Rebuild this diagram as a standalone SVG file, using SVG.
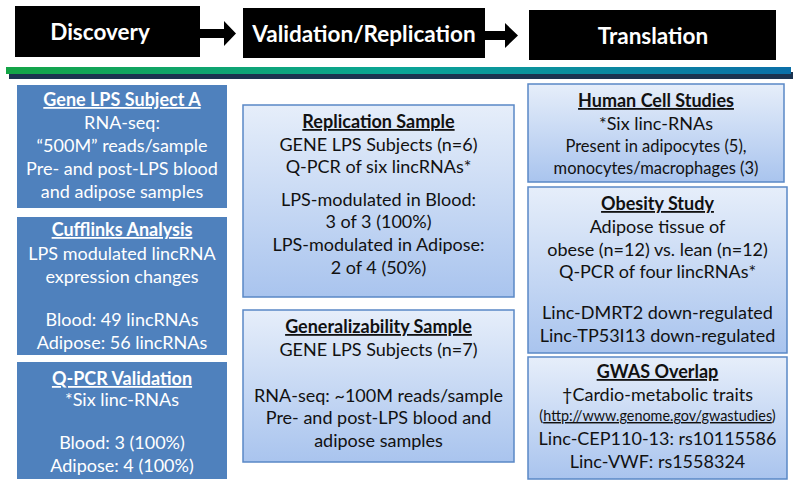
<svg xmlns="http://www.w3.org/2000/svg" width="800" height="486" viewBox="0 0 800 486">
<defs>
<linearGradient id="bar" x1="0" y1="0" x2="1" y2="0">
<stop offset="0" stop-color="#14A446"/>
<stop offset="0.5" stop-color="#0AA596"/>
<stop offset="1" stop-color="#0A6FA8"/>
</linearGradient>
<linearGradient id="lb" x1="0" y1="0" x2="0" y2="1">
<stop offset="0" stop-color="#E6EEFA"/>
<stop offset="1" stop-color="#A9C4EE"/>
</linearGradient>
<style>
text{font-family:Lato,"Liberation Sans",sans-serif;text-anchor:middle}
.hd{fill:#000}
.ht{fill:#fff;font-weight:bold;font-size:22.5px}
.db{fill:#4F81BD}
.lb{fill:url(#lb);stroke:#5A88C6;stroke-width:1.5}
.w{fill:#fff;font-size:18px}
.k{fill:#111;font-size:18px}
.s{font-size:16.5px}
.xs{font-size:14.4px}
.t{font-weight:bold;text-decoration:underline}
</style>
</defs>
<g id="header">
<g id="discovery"><rect class="hd" x="15" y="6" width="185" height="51"/><text class="ht" x="100" y="40">Discovery</text></g>
<g id="validation"><rect class="hd" x="243" y="8" width="242" height="50"/><text class="ht" x="364" y="42">Validation/Replication</text></g>
<g id="translation"><rect class="hd" x="529" y="10" width="247" height="50"/><text class="ht" x="653" y="44">Translation</text></g>
</g>
<g id="connectors">
<polygon points="200,29 224,29 224,21 236,33.5 224,46 224,38 200,38" fill="#000"/>
<polygon points="485,31 505,31 505,23 518,35.5 505,48 505,40 485,40" fill="#000"/>
</g>
<g id="bar">
<rect x="9" y="72" width="784" height="7" fill="#1B3350"/>
<rect x="6" y="67" width="785" height="7" fill="url(#bar)"/>
</g>
<g id="gene-lps">
<rect class="db" x="17" y="85" width="210" height="123"/>
<text class="w t" x="122" y="106">Gene LPS Subject A</text>
<text class="w" x="122" y="129">RNA-seq:</text>
<text class="w" x="122" y="152">“500M” reads/sample</text>
<text class="w" x="122" y="175">Pre- and post-LPS blood</text>
<text class="w" x="122" y="198">and adipose samples</text>
</g>
<g id="cufflinks">
<rect class="db" x="17" y="217" width="210" height="138"/>
<text class="w t" x="122" y="236">Cufflinks Analysis</text>
<text class="w" x="122" y="260">LPS modulated lincRNA</text>
<text class="w" x="122" y="283">expression changes</text>
<text class="w" x="122" y="326">Blood: 49 lincRNAs</text>
<text class="w" x="122" y="349">Adipose: 56 lincRNAs</text>
</g>
<g id="qpcr">
<rect class="db" x="17" y="362" width="210" height="117"/>
<text class="w t" x="122" y="385">Q-PCR Validation</text>
<text class="w" x="122" y="406">*Six linc-RNAs</text>
<text class="w" x="122" y="449">Blood: 3 (100%)</text>
<text class="w" x="122" y="472">Adipose: 4 (100%)</text>
</g>
<g id="replication">
<rect class="lb" x="243" y="105" width="271" height="192"/>
<text class="k t" x="378.5" y="128">Replication Sample</text>
<text class="k" x="378.5" y="151">GENE LPS Subjects (n=6)</text>
<text class="k" x="378.5" y="173">Q-PCR of six lincRNAs*</text>
<text class="k" x="378.5" y="206">LPS-modulated in Blood:</text>
<text class="k" x="378.5" y="228">3 of 3 (100%)</text>
<text class="k" x="378.5" y="251">LPS-modulated in Adipose:</text>
<text class="k" x="378.5" y="274">2 of 4 (50%)</text>
</g>
<g id="generalizability">
<rect class="lb" x="243" y="310" width="271" height="152"/>
<text class="k t" x="378.5" y="333">Generalizability Sample</text>
<text class="k" x="378.5" y="356">GENE LPS Subjects (n=7)</text>
<text class="k" x="378.5" y="402">RNA-seq: ~100M reads/sample</text>
<text class="k" x="378.5" y="424">Pre- and post-LPS blood and</text>
<text class="k" x="378.5" y="447">adipose samples</text>
</g>
<g id="human-cell">
<rect class="lb" x="528" y="84" width="256" height="98"/>
<text class="k t" x="656" y="107">Human Cell Studies</text>
<text class="k" x="656" y="130">*Six linc-RNAs</text>
<text class="k s" x="656" y="152">Present in adipocytes (5),</text>
<text class="k s" x="656" y="174">monocytes/macrophages (3)</text>
</g>
<g id="obesity">
<rect class="lb" x="528" y="187" width="259" height="166"/>
<text class="k t" x="657.5" y="210">Obesity Study</text>
<text class="k" x="657.5" y="233">Adipose tissue of</text>
<text class="k" x="657.5" y="256">obese (n=12) vs. lean (n=12)</text>
<text class="k" x="657.5" y="278">Q-PCR of four lincRNAs*</text>
<text class="k" x="657.5" y="319">Linc-DMRT2 down-regulated</text>
<text class="k" x="657.5" y="342">Linc-TP53I13 down-regulated</text>
</g>
<g id="gwas">
<rect class="lb" x="528" y="357" width="259" height="122"/>
<text class="k t" x="657.5" y="378">GWAS Overlap</text>
<text class="k" x="657.5" y="401">†Cardio-metabolic traits</text>
<text class="k xs" x="657.5" y="421">(<tspan text-decoration="underline">http://www.genome.gov/gwastudies</tspan>)</text>
<text class="k" x="657.5" y="445">Linc-CEP110-13: rs10115586</text>
<text class="k" x="657.5" y="468">Linc-VWF: rs1558324</text>
</g>
</svg>
